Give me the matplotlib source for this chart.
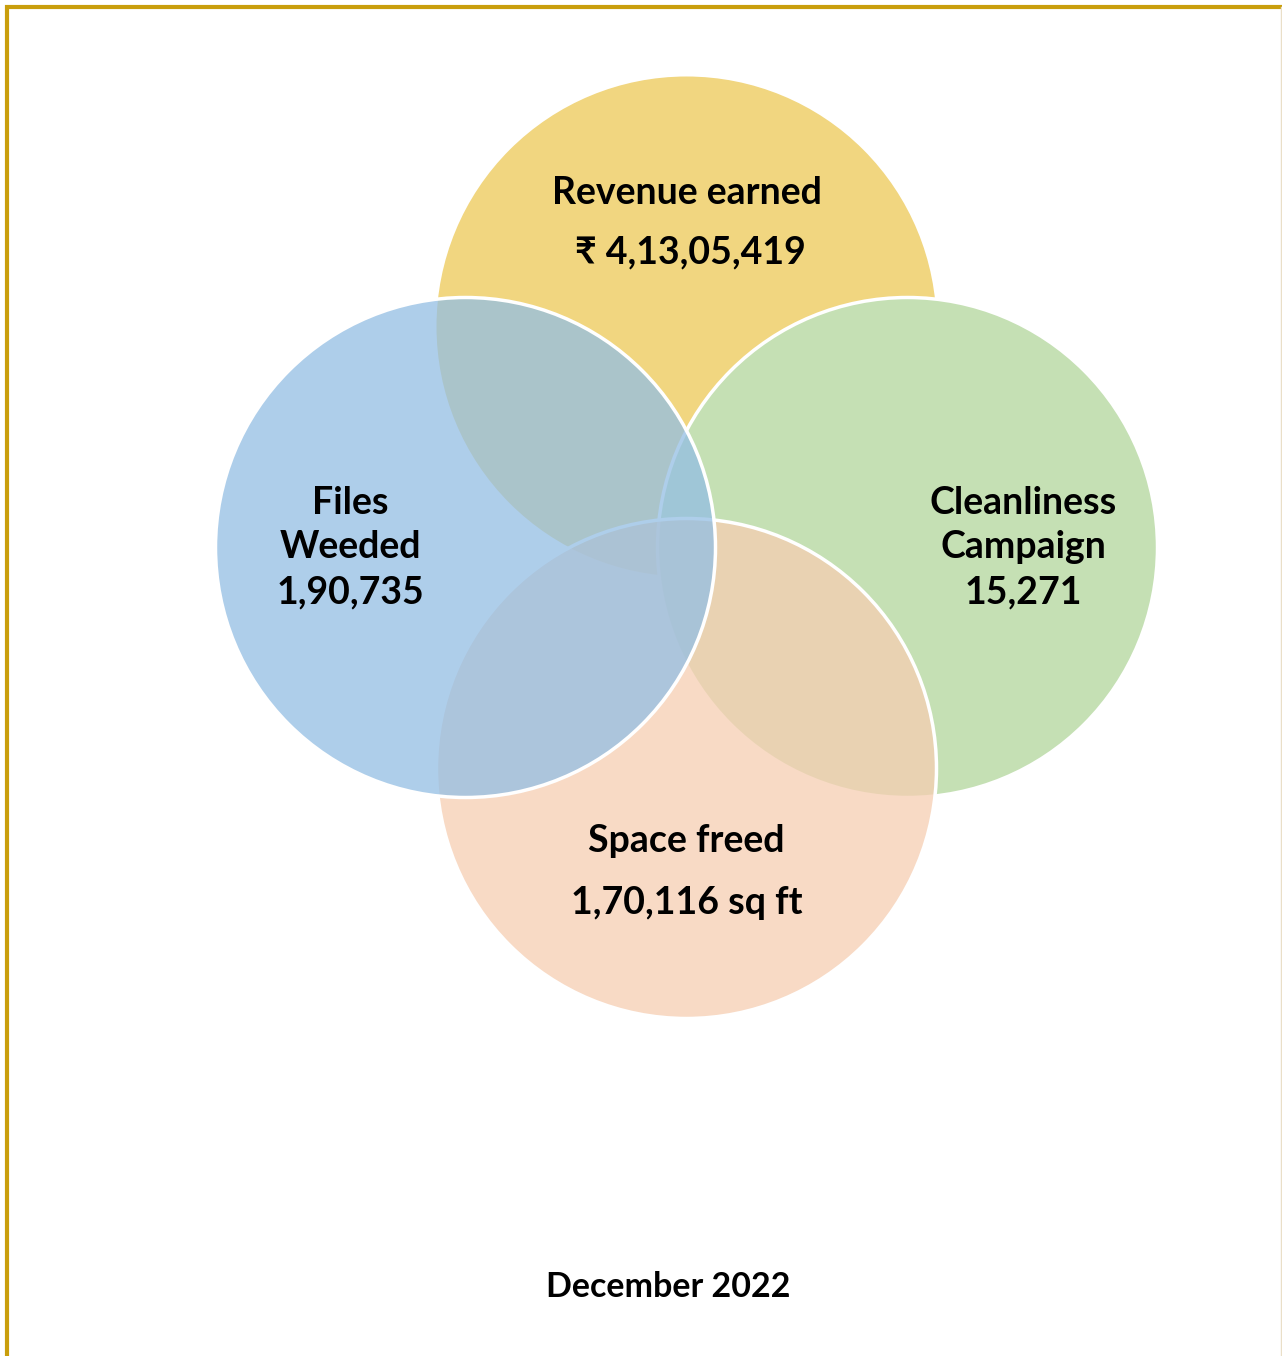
import numpy as np
import matplotlib.pyplot as plt
from matplotlib.patches import Circle
from matplotlib.lines import Line2D

plt.rcParams['font.family'] = ['Lato', 'DejaVu Sans']

# ---- data ----
labels = ["Revenue earned", "Cleanliness\nCampaign", "Space freed", "Files\nWeeded"]
values = ["₹ 4,13,05,419", "15,271", "1,70,116 sq ft", "1,90,735"]
# colours as they look on white
colors_on_white = ["#F1D680", "#C5E0B4", "#F8DAC5", "#AECEEB"]
period = "December 2022"

# top & right circles are solid, bottom & left see-through
alphas = [1.0, 1.0, 0.75, 0.75]
edges = ["none", "white", "white", "white"]


def source_color(hexcol, a):
    rgb = np.array([int(hexcol[i:i + 2], 16) for i in (1, 3, 5)]) / 255.0
    src = (rgb - (1 - a)) / a
    return tuple(np.clip(src, 0, 1)) + (a,)


W, H = 1282, 1356
fig = plt.figure(figsize=(W / 100, H / 100), dpi=100)
ax = fig.add_axes([0, 0, 1, 1])
ax.set_xlim(0, W)
ax.set_ylim(H, 0)
ax.axis("off")

# layout: top, right, bottom, left
cx, cy, off, r = 686.5, 547.5, 221, 250
centers = [(cx, cy - off), (cx + off, cy), (cx, cy + off), (cx - off, cy)]

for (x, y), col, a, ec in zip(centers, colors_on_white, alphas, edges):
    ax.add_patch(Circle((x, y), r, facecolor=source_color(col, a),
                        edgecolor=ec, linewidth=2.5))

fs = 27
# top and bottom: label over value
ax.text(cx, cy - off - 134, labels[0], ha="center", va="center",
        fontsize=fs, fontweight="bold")
ax.text(cx + 4, cy - off - 74, values[0], ha="center", va="center",
        fontsize=fs, fontweight="bold")
ax.text(cx, cy + off + 73, labels[2], ha="center", va="center",
        fontsize=fs, fontweight="bold")
ax.text(cx, cy + off + 134, values[2], ha="center", va="center",
        fontsize=fs, fontweight="bold")
# sides: three stacked lines
ax.text(1023, cy, labels[1] + "\n" + values[1], ha="center",
        va="center", fontsize=fs, fontweight="bold", linespacing=1.38)
ax.text(350, cy, labels[3] + "\n" + values[3], ha="center",
        va="center", fontsize=fs, fontweight="bold", linespacing=1.38)

ax.text(668, 1287, period, ha="center", va="center", fontsize=24.5,
        fontweight="bold")

# frame
ax.add_line(Line2D([7, 7, W], [H, 7, 7], color="#C99E0C", linewidth=3,
                   solid_joinstyle="miter"))
ax.add_line(Line2D([W - 1.5, W - 1.5], [7, H], color="#EADFC8", linewidth=1))

fig.savefig("out.png", dpi=100)
